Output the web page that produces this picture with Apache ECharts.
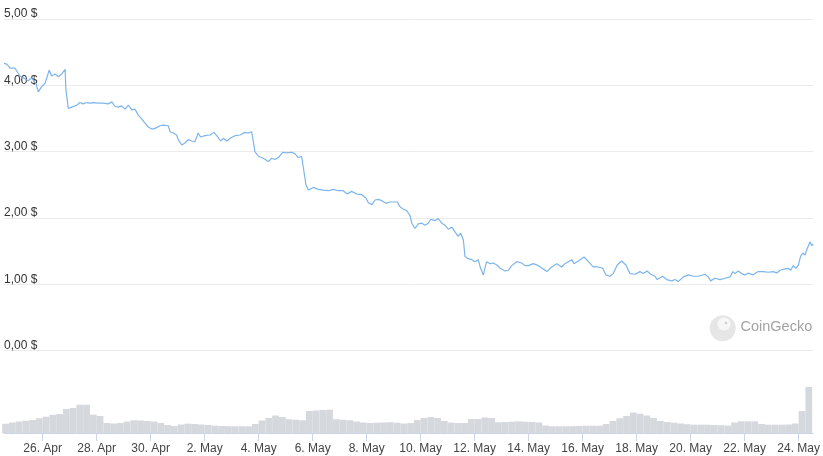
<!DOCTYPE html>
<html>
<head>
<meta charset="utf-8">
<script src="https://cdn.jsdelivr.net/npm/echarts@6/dist/echarts.min.js"></script>
<style>
html,body{margin:0;padding:0;background:#fff;}
#chart{width:823px;height:456px;}
</style>
</head>
<body>
<div id="chart"></div>
<script>
// Days are counted from 26 Apr 00:00
const tickDays = [0,2,4,6,8,10,12,14,16,18,20,22,24,26,28];
const tickLabels = ["26. Apr","28. Apr","30. Apr","2. May","4. May","6. May","8. May","10. May","12. May","14. May","16. May","18. May","20. May","22. May","24. May"];
const priceTicks = [0,1,2,3,4,5];
const dayMin = -1.433;
const dayMax = 28.541;

// [day, price in $]
const pricePoints = [[-1.43,4.33],[-1.33,4.32],[-1.21,4.26],[-1.14,4.29],[-1.03,4.26],[-0.92,4.19],[-0.84,4.14],[-0.66,4.10],[-0.54,4.07],[-0.41,4.11],[-0.36,4.08],[-0.25,4.03],[-0.16,3.90],[-0.10,3.93],[-0.04,3.98],[0.09,4.03],[0.15,4.11],[0.24,4.23],[0.33,4.14],[0.46,4.17],[0.58,4.13],[0.70,4.17],[0.76,4.14],[0.83,4.24],[0.86,3.93],[0.95,3.65],[1.07,3.67],[1.26,3.70],[1.38,3.74],[1.50,3.72],[1.63,3.74],[1.75,3.73],[1.87,3.74],[2.06,3.73],[2.24,3.73],[2.43,3.72],[2.56,3.75],[2.68,3.68],[2.80,3.67],[2.93,3.69],[3.05,3.64],[3.17,3.70],[3.30,3.63],[3.42,3.64],[3.54,3.55],[3.67,3.49],[3.79,3.43],[3.91,3.37],[4.04,3.34],[4.16,3.35],[4.34,3.39],[4.47,3.40],[4.65,3.39],[4.72,3.30],[4.84,3.28],[4.96,3.25],[5.02,3.18],[5.15,3.10],[5.27,3.13],[5.39,3.18],[5.52,3.16],[5.64,3.15],[5.76,3.28],[5.85,3.22],[6.01,3.24],[6.20,3.25],[6.34,3.29],[6.47,3.23],[6.59,3.16],[6.69,3.20],[6.82,3.16],[6.94,3.20],[7.12,3.24],[7.31,3.25],[7.49,3.29],[7.62,3.28],[7.74,3.30],[7.86,3.00],[7.99,2.93],[8.17,2.90],[8.36,2.85],[8.48,2.90],[8.60,2.88],[8.73,2.91],[8.89,2.99],[9.04,2.98],[9.22,2.99],[9.34,2.97],[9.47,2.91],[9.59,2.93],[9.65,2.92],[9.75,2.50],[9.84,2.42],[9.90,2.45],[10.02,2.46],[10.21,2.43],[10.39,2.42],[10.58,2.41],[10.76,2.43],[10.95,2.41],[11.13,2.41],[11.28,2.36],[11.44,2.40],[11.63,2.36],[11.82,2.35],[11.97,2.30],[12.06,2.23],[12.19,2.20],[12.31,2.27],[12.43,2.28],[12.56,2.26],[12.72,2.22],[12.86,2.24],[12.99,2.24],[13.13,2.24],[13.23,2.17],[13.36,2.13],[13.48,2.11],[13.60,2.04],[13.67,1.92],[13.79,1.84],[13.91,1.91],[14.04,1.92],[14.16,1.89],[14.28,1.92],[14.37,1.98],[14.53,1.96],[14.65,1.99],[14.78,1.92],[14.90,1.89],[15.02,1.83],[15.15,1.86],[15.27,1.79],[15.39,1.72],[15.48,1.77],[15.58,1.67],[15.64,1.42],[15.73,1.39],[15.89,1.37],[16.01,1.34],[16.13,1.37],[16.22,1.24],[16.32,1.14],[16.44,1.34],[16.57,1.31],[16.69,1.32],[16.82,1.29],[16.94,1.24],[17.12,1.20],[17.24,1.21],[17.37,1.28],[17.56,1.34],[17.74,1.32],[17.86,1.28],[17.99,1.28],[18.17,1.31],[18.36,1.28],[18.54,1.23],[18.67,1.19],[18.85,1.26],[19.04,1.31],[19.22,1.26],[19.34,1.31],[19.47,1.34],[19.59,1.37],[19.68,1.31],[19.84,1.35],[20.05,1.41],[20.21,1.34],[20.39,1.26],[20.58,1.26],[20.74,1.24],[20.86,1.14],[21.01,1.12],[21.13,1.16],[21.28,1.29],[21.44,1.35],[21.60,1.29],[21.75,1.16],[21.94,1.15],[22.12,1.19],[22.24,1.16],[22.39,1.20],[22.52,1.15],[22.68,1.12],[22.76,1.07],[22.96,1.12],[23.11,1.07],[23.30,1.05],[23.42,1.07],[23.54,1.04],[23.73,1.11],[23.91,1.14],[24.10,1.12],[24.28,1.12],[24.53,1.15],[24.65,1.11],[24.74,1.05],[24.90,1.09],[25.09,1.07],[25.27,1.09],[25.46,1.11],[25.56,1.19],[25.64,1.16],[25.76,1.20],[25.89,1.16],[26.01,1.14],[26.13,1.17],[26.30,1.14],[26.50,1.19],[26.69,1.19],[26.87,1.18],[27.06,1.19],[27.19,1.17],[27.31,1.21],[27.49,1.23],[27.62,1.24],[27.70,1.21],[27.80,1.28],[27.90,1.24],[27.99,1.29],[28.07,1.42],[28.15,1.47],[28.23,1.44],[28.30,1.52],[28.36,1.49],[28.42,1.64],[28.48,1.58],[28.54,1.61]];

// Trading volume (arbitrary units), one value every 6 hours
const volumeStartDay = -1.375;
const volumeStepDays = 0.25;
const volumeValues = [0.92,1.05,1.15,1.22,1.30,1.48,1.63,1.82,1.90,2.40,
2.50,2.83,2.83,1.83,1.70,1.00,0.95,1.00,1.15,1.27,
1.25,1.20,1.15,1.00,0.80,0.70,0.85,0.93,0.90,0.85,
0.80,0.73,0.70,0.68,0.67,0.67,0.67,0.90,1.25,1.50,
1.75,1.60,1.38,1.33,1.27,2.20,2.25,2.30,2.33,1.38,
1.32,1.27,1.15,1.05,1.00,1.03,1.05,1.07,1.02,0.95,
1.00,1.30,1.50,1.60,1.50,1.20,1.05,1.00,1.00,1.40,
1.40,1.55,1.50,1.07,1.10,1.13,1.17,1.13,1.10,1.05,
0.75,0.67,0.67,0.67,0.68,0.71,0.73,0.73,0.73,0.90,
1.20,1.47,1.70,2.05,1.93,1.75,1.50,1.20,1.10,1.03,
0.95,0.88,0.83,0.83,0.83,0.80,0.78,0.74,1.05,1.17,
1.17,1.17,0.90,0.83,0.83,0.83,0.85,0.95,2.20,4.60];

const volumeData = volumeValues.map((v, i) => [volumeStartDay + i * volumeStepDays, v]);

const FONT = "'Liberation Sans', Arial, Helvetica, sans-serif";
const chart = echarts.init(document.getElementById('chart'), null, {renderer: 'canvas'});

const option = {
  animation: false,
  backgroundColor: '#ffffff',
  textStyle: {fontFamily: FONT},
  grid: [
    {left: 4, right: 9.7, top: 19, bottom: 105.5},
    {left: 4, right: 9.7, top: 373, bottom: 23}
  ],
  xAxis: [
    {type: 'value', gridIndex: 0, min: dayMin, max: dayMax, show: false},
    {
      type: 'value', gridIndex: 1, min: dayMin, max: dayMax,
      axisLine: {show: true, lineStyle: {color: '#ccd6eb', width: 1}},
      axisTick: {show: true, customValues: tickDays, length: 8, lineStyle: {color: '#ccd6eb'}},
      axisLabel: {
        show: true, customValues: tickDays, margin: 10,
        color: '#444', fontSize: 12, fontFamily: FONT,
        formatter: function (v) { const i = tickDays.indexOf(Math.round(v)); return i >= 0 ? tickLabels[i] : ''; }
      },
      splitLine: {show: false}
    }
  ],
  yAxis: [
    {
      type: 'value', gridIndex: 0, min: priceTicks[0], max: priceTicks[priceTicks.length - 1], interval: 1,
      axisLine: {show: false}, axisTick: {show: false},
      axisLabel: {
        inside: true, margin: 0, verticalAlign: 'bottom', align: 'left',
        color: '#333', fontSize: 12, lineHeight: 10, fontFamily: FONT,
        formatter: function (v) { return v.toFixed(2).replace('.', ',') + ' $'; }
      },
      splitLine: {show: true, lineStyle: {color: '#ebebeb', width: 1}}
    },
    {type: 'value', gridIndex: 1, min: 0, max: 6, show: false, splitLine: {show: false}}
  ],
  series: [
    {
      type: 'bar', xAxisIndex: 1, yAxisIndex: 1, data: volumeData,
      barWidth: 6.75, itemStyle: {color: '#d5d8dd'}, silent: true
    },
    {
      type: 'line', xAxisIndex: 0, yAxisIndex: 0, data: pricePoints,
      showSymbol: false, symbol: 'none', smooth: false,
      lineStyle: {color: '#7cb5ec', width: 1.2}, silent: true, z: 5
    }
  ],
  graphic: [
    {type: 'circle', shape: {cx: 722.7, cy: 328.3, r: 13}, style: {fill: '#e6e6e6'}, z: 1, silent: true},
    {type: 'circle', shape: {cx: 724, cy: 324, r: 6.5}, style: {fill: '#f7f7f7'}, z: 2, silent: true},
    {type: 'circle', shape: {cx: 726, cy: 323, r: 1.3}, style: {fill: '#cfcfcf'}, z: 3, silent: true},
    {type: 'text', left: 740.5, top: 319.5, style: {text: 'CoinGecko', fill: '#a3a3a3', fontSize: 14.5, fontFamily: FONT}, z: 2, silent: true}
  ]
};
chart.setOption(option);
</script>
</body>
</html>
